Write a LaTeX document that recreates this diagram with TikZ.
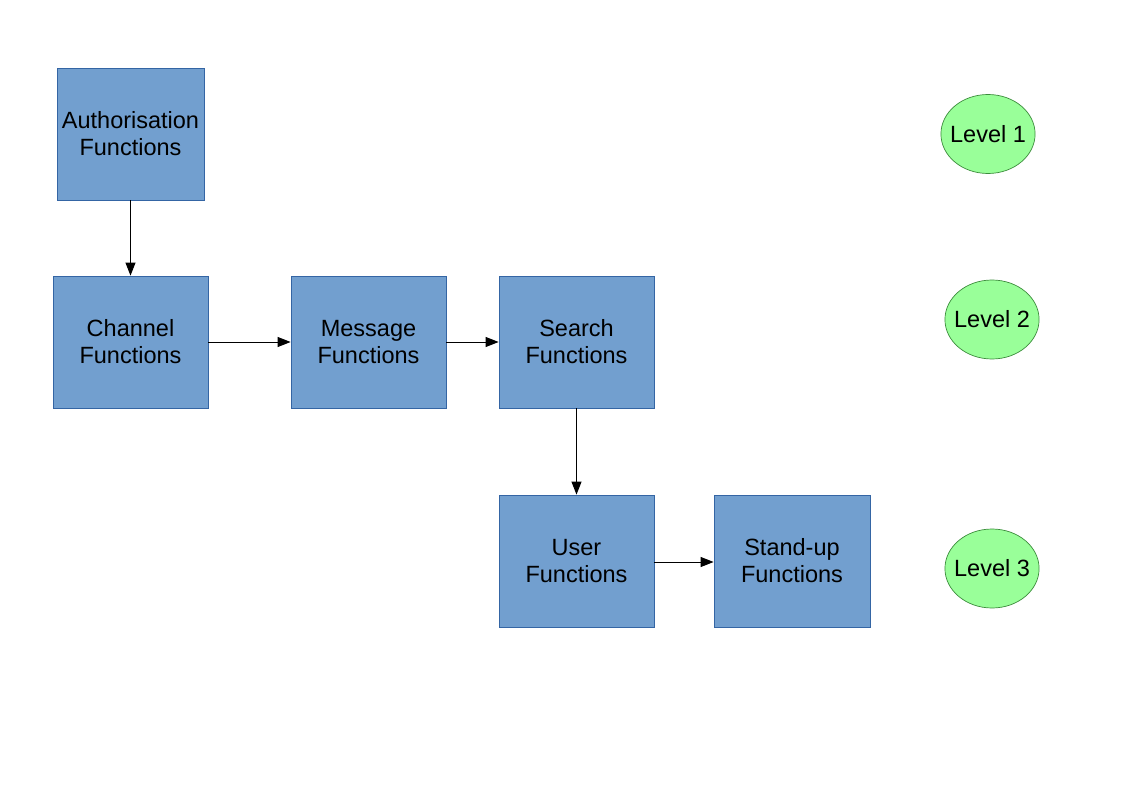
\documentclass[tikz,border=0pt]{standalone}
\usepackage{fontspec}
\setmainfont{Liberation Sans}
\usetikzlibrary{arrows.meta,shapes.geometric}
\definecolor{boxfill}{HTML}{729FCF}
\definecolor{boxline}{HTML}{3465A4}
\definecolor{ellfill}{HTML}{99FF99}
\definecolor{ellline}{HTML}{3C8C3C}
\tikzset{
  fbox/.style={draw=boxline, fill=boxfill, line width=0.8pt, minimum width=155pt, minimum height=132pt, align=center, inner sep=0pt, font=\fontsize{23.5}{27}\selectfont},
  lvl/.style={draw=ellline, fill=ellfill, ellipse, line width=0.7pt, minimum width=93pt, minimum height=79pt, inner xsep=-4.6pt, inner ysep=0pt, font=\fontsize{23.5}{27}\selectfont},
  conn/.style={line width=1pt, -{Triangle[length=13pt,width=10pt]}}
}
\begin{document}
\begin{tikzpicture}[x=1pt,y=-1pt]
\useasboundingbox (0,0) rectangle (1123,794);
\node[fbox, minimum width=147pt] (auth) at (130.5,134) {Authorisation\\Functions};
\node[fbox] (chan) at (130.5,342) {Channel\\Functions};
\node[fbox] (msg) at (368.5,342) {Message\\Functions};
\node[fbox] (srch) at (576.5,342) {Search\\Functions};
\node[fbox] (user) at (576.5,561) {User\\Functions};
\node[fbox, minimum width=156pt] (stand) at (792,561) {Stand-up\\Functions};
\node[lvl] (l1) at (988,134) {Level 1};
\node[lvl] (l2) at (992,319.5) {Level 2};
\node[lvl] (l3) at (992,568.5) {Level 3};
\draw[conn] (auth.south) -- (chan.north);
\draw[conn] (chan.east) -- (msg.west);
\draw[conn] (msg.east) -- (srch.west);
\draw[conn] (srch.south) -- (user.north);
\draw[conn] ([yshift=-1pt]user.east) -- ([yshift=-1pt]stand.west);
\end{tikzpicture}
\end{document}
